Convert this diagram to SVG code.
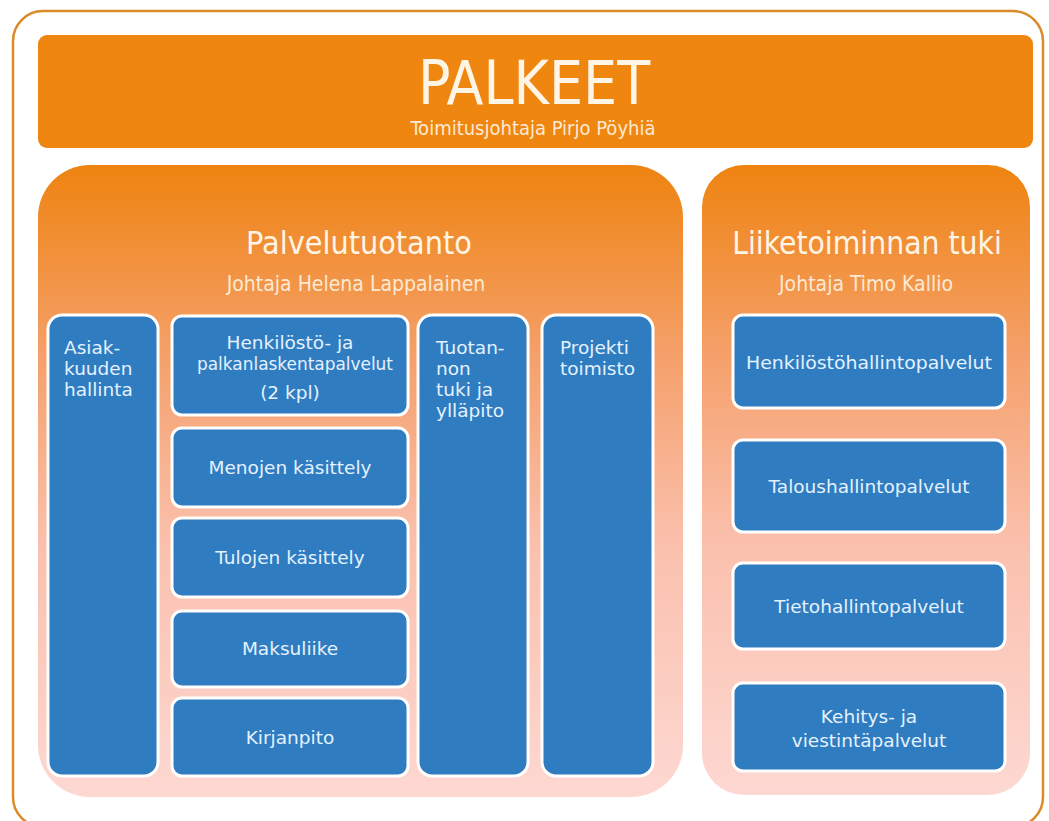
<svg xmlns="http://www.w3.org/2000/svg" width="1049" height="821" viewBox="0 0 1049 821">
<defs>
<linearGradient id="secGrad" x1="0" y1="0" x2="0" y2="1">
<stop offset="0" stop-color="#ee8310"/>
<stop offset="0.3" stop-color="#f5a06a"/>
<stop offset="0.6" stop-color="#fac0ad"/>
<stop offset="1" stop-color="#fdd8d2"/>
</linearGradient>
</defs>
<style>
.title{font-family:"DejaVu Sans Condensed","DejaVu Sans",sans-serif;fill:#fff5e6;text-anchor:middle;font-weight:300}
.sub{font-family:"DejaVu Sans Condensed","DejaVu Sans",sans-serif;fill:#fde9d4;text-anchor:middle;font-size:21px}
.box{fill:#2f7dc0;stroke:#ffffff;stroke-width:3}
.bt{font-family:"DejaVu Sans",sans-serif;fill:#e4f1ff;font-size:18.5px}
.c{text-anchor:middle}
</style>
<rect x="13" y="11" width="1030" height="816" rx="30" fill="#ffffff" stroke="#dc8a28" stroke-width="2.5"/>
<g id="palkeet">
<rect x="38" y="35" width="995" height="113" rx="9" fill="#ef860f"/>
<text class="title" x="534" y="104" font-size="60">PALKEET</text>
<text class="sub" x="533" y="135" font-size="20" style="font-size:20px">Toimitusjohtaja Pirjo Pöyhiä</text>
</g>
<g id="palvelutuotanto">
<rect x="38" y="165" width="645" height="632" rx="52" fill="url(#secGrad)"/>
<text class="title" x="359" y="254" font-size="32">Palvelutuotanto</text>
<text class="sub" x="356" y="291">Johtaja Helena Lappalainen</text>
</g>
<g id="liiketoiminnan-tuki">
<rect x="702" y="165" width="328" height="630" rx="42" fill="url(#secGrad)"/>
<text class="title" x="867" y="254" font-size="31.5">Liiketoiminnan tuki</text>
<text class="sub" x="866" y="291">Johtaja Timo Kallio</text>
</g>
<g id="asiakkuuden-hallinta">
<rect class="box" x="48" y="315" width="110" height="461" rx="14"/>
<text class="bt" x="64" y="354">Asiak-</text>
<text class="bt" x="64" y="375">kuuden</text>
<text class="bt" x="64" y="396">hallinta</text>
</g>
<g id="henkilosto-palkanlaskenta">
<rect class="box" x="172" y="316" width="236" height="99" rx="10"/>
<text class="bt c" x="290" y="349">Henkilöstö- ja</text>
<text class="bt c" x="295" y="370" textLength="196" lengthAdjust="spacingAndGlyphs">palkanlaskentapalvelut</text>
<text class="bt c" x="290" y="399">(2 kpl)</text>
</g>
<g id="menojen-kasittely">
<rect class="box" x="172" y="428" width="236" height="79" rx="10"/>
<text class="bt c" x="290" y="474">Menojen käsittely</text>
</g>
<g id="tulojen-kasittely">
<rect class="box" x="172" y="518" width="236" height="79" rx="10"/>
<text class="bt c" x="290" y="564">Tulojen käsittely</text>
</g>
<g id="maksuliike">
<rect class="box" x="172" y="611" width="236" height="76" rx="10"/>
<text class="bt c" x="290" y="655">Maksuliike</text>
</g>
<g id="kirjanpito">
<rect class="box" x="172" y="698" width="236" height="78" rx="10"/>
<text class="bt c" x="290" y="744">Kirjanpito</text>
</g>
<g id="tuotannon-tuki">
<rect class="box" x="418" y="315" width="110" height="461" rx="14"/>
<text class="bt" x="436" y="354">Tuotan-</text>
<text class="bt" x="436" y="375">non</text>
<text class="bt" x="436" y="396">tuki ja</text>
<text class="bt" x="436" y="417">ylläpito</text>
</g>
<g id="projektitoimisto">
<rect class="box" x="542" y="315" width="111" height="461" rx="14"/>
<text class="bt" x="560" y="354">Projekti</text>
<text class="bt" x="560" y="375">toimisto</text>
</g>
<g id="henkilostohallintopalvelut">
<rect class="box" x="733" y="315" width="272" height="93" rx="10"/>
<text class="bt c" x="869" y="369" textLength="246" lengthAdjust="spacingAndGlyphs">Henkilöstöhallintopalvelut</text>
</g>
<g id="taloushallintopalvelut">
<rect class="box" x="733" y="440" width="272" height="92" rx="10"/>
<text class="bt c" x="869" y="493">Taloushallintopalvelut</text>
</g>
<g id="tietohallintopalvelut">
<rect class="box" x="733" y="563" width="272" height="86" rx="10"/>
<text class="bt c" x="869" y="613">Tietohallintopalvelut</text>
</g>
<g id="kehitys-viestinta">
<rect class="box" x="733" y="683" width="272" height="88" rx="10"/>
<text class="bt c" x="869" y="723">Kehitys- ja</text>
<text class="bt c" x="869" y="747">viestintäpalvelut</text>
</g>
<g id="connectors"/>
</svg>
